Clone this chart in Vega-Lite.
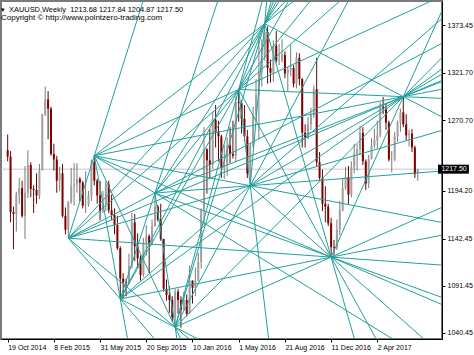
{
  "$schema": "https://vega.github.io/schema/vega-lite/v6.json",
  "width": 441,
  "height": 338,
  "autosize": {"type": "none"},
  "padding": {"left": 1, "top": 1, "right": 32, "bottom": 16},
  "background": "white",
  "title": {
    "text": "▾\u00a0\u00a0XAUUSD,Weekly\u00a0\u00a01213.68 1217.84 1204.87 1217.50",
    "subtitle": "\u00a0Copyright © http://www.pointzero-trading.com",
    "anchor": "start",
    "frame": "group",
    "orient": "top",
    "offset": -21,
    "font": "Liberation Sans",
    "fontSize": 7.4,
    "fontWeight": "normal",
    "color": "#000000",
    "subtitleFont": "Liberation Sans",
    "subtitleFontSize": 8,
    "subtitleColor": "#000000",
    "subtitlePadding": 1
  },
  "datasets": {
    "cur": [{"label": "1217.50", "p": 1217.5}],
    "candles": [
      {"d":"2014-10-19","o":1238,"h":1255,"l":1226,"c":1231},
      {"d":"2014-10-26","o":1231,"h":1237,"l":1160,"c":1171},
      {"d":"2014-11-02","o":1171,"h":1177,"l":1131,"c":1169},
      {"d":"2014-11-09","o":1169,"h":1193,"l":1150,"c":1190},
      {"d":"2014-11-16","o":1190,"h":1208,"l":1180,"c":1197},
      {"d":"2014-11-23","o":1197,"h":1205,"l":1165,"c":1167},
      {"d":"2014-11-30","o":1167,"h":1221,"l":1142,"c":1192},
      {"d":"2014-12-07","o":1192,"h":1238,"l":1186,"c":1222},
      {"d":"2014-12-14","o":1222,"h":1225,"l":1187,"c":1196},
      {"d":"2014-12-21","o":1196,"h":1200,"l":1170,"c":1195},
      {"d":"2014-12-28","o":1195,"h":1213,"l":1180,"c":1189},
      {"d":"2015-01-04","o":1189,"h":1223,"l":1185,"c":1216},
      {"d":"2015-01-11","o":1216,"h":1277,"l":1216,"c":1277},
      {"d":"2015-01-18","o":1277,"h":1307,"l":1275,"c":1293},
      {"d":"2015-01-25","o":1293,"h":1302,"l":1250,"c":1283},
      {"d":"2015-02-01","o":1283,"h":1285,"l":1232,"c":1234},
      {"d":"2015-02-08","o":1234,"h":1245,"l":1216,"c":1228},
      {"d":"2015-02-15","o":1228,"h":1232,"l":1192,"c":1205},
      {"d":"2015-02-22","o":1205,"h":1220,"l":1194,"c":1213},
      {"d":"2015-03-01","o":1213,"h":1223,"l":1165,"c":1167},
      {"d":"2015-03-08","o":1167,"h":1176,"l":1147,"c":1152},
      {"d":"2015-03-15","o":1152,"h":1183,"l":1142.8,"c":1182},
      {"d":"2015-03-22","o":1182,"h":1219,"l":1180,"c":1199},
      {"d":"2015-03-29","o":1199,"h":1224,"l":1178,"c":1201},
      {"d":"2015-04-05","o":1201,"h":1224,"l":1192,"c":1207},
      {"d":"2015-04-12","o":1207,"h":1209,"l":1183,"c":1203},
      {"d":"2015-04-19","o":1203,"h":1205,"l":1175,"c":1178},
      {"d":"2015-04-26","o":1178,"h":1215,"l":1170,"c":1179},
      {"d":"2015-05-03","o":1179,"h":1194,"l":1177,"c":1189},
      {"d":"2015-05-10","o":1189,"h":1228,"l":1183,"c":1225},
      {"d":"2015-05-17","o":1225,"h":1232,"l":1200,"c":1205},
      {"d":"2015-05-24","o":1205,"h":1207,"l":1180,"c":1189},
      {"d":"2015-05-31","o":1189,"h":1205,"l":1162,"c":1172},
      {"d":"2015-06-07","o":1172,"h":1194,"l":1170,"c":1180},
      {"d":"2015-06-14","o":1180,"h":1205,"l":1172,"c":1201},
      {"d":"2015-06-21","o":1201,"h":1205,"l":1170,"c":1173},
      {"d":"2015-06-28","o":1173,"h":1190,"l":1162,"c":1168},
      {"d":"2015-07-05","o":1168,"h":1175,"l":1147,"c":1157},
      {"d":"2015-07-12","o":1157,"h":1167,"l":1130,"c":1132},
      {"d":"2015-07-19","o":1132,"h":1134,"l":1077,"c":1099},
      {"d":"2015-07-26","o":1099,"h":1105,"l":1077,"c":1095},
      {"d":"2015-08-02","o":1095,"h":1099,"l":1080,"c":1094},
      {"d":"2015-08-09","o":1094,"h":1126,"l":1093,"c":1113},
      {"d":"2015-08-16","o":1113,"h":1170,"l":1110,"c":1160},
      {"d":"2015-08-23","o":1160,"h":1169,"l":1118,"c":1134},
      {"d":"2015-08-30","o":1134,"h":1148,"l":1111,"c":1121},
      {"d":"2015-09-06","o":1121,"h":1124,"l":1097,"c":1103},
      {"d":"2015-09-13","o":1103,"h":1143,"l":1101,"c":1138},
      {"d":"2015-09-20","o":1138,"h":1157,"l":1124,"c":1145},
      {"d":"2015-09-27","o":1145,"h":1147,"l":1105,"c":1137},
      {"d":"2015-10-04","o":1137,"h":1163,"l":1135,"c":1156},
      {"d":"2015-10-11","o":1156,"h":1191.7,"l":1155,"c":1177},
      {"d":"2015-10-18","o":1177,"h":1179,"l":1161,"c":1163},
      {"d":"2015-10-25","o":1163,"h":1180,"l":1140,"c":1142},
      {"d":"2015-11-01","o":1142,"h":1142,"l":1085,"c":1088},
      {"d":"2015-11-08","o":1088,"h":1098,"l":1075,"c":1081},
      {"d":"2015-11-15","o":1081,"h":1091,"l":1062,"c":1076},
      {"d":"2015-11-22","o":1076,"h":1080,"l":1052,"c":1057},
      {"d":"2015-11-29","o":1057,"h":1088,"l":1046.4,"c":1085},
      {"d":"2015-12-06","o":1085,"h":1088,"l":1061,"c":1076},
      {"d":"2015-12-13","o":1076,"h":1080,"l":1046,"c":1065},
      {"d":"2015-12-20","o":1065,"h":1085,"l":1065,"c":1076},
      {"d":"2015-12-27","o":1076,"h":1082,"l":1058,"c":1061},
      {"d":"2016-01-03","o":1061,"h":1113,"l":1061,"c":1097},
      {"d":"2016-01-10","o":1097,"h":1097,"l":1072,"c":1089},
      {"d":"2016-01-17","o":1089,"h":1111,"l":1080,"c":1097},
      {"d":"2016-01-24","o":1097,"h":1127,"l":1096,"c":1117},
      {"d":"2016-01-31","o":1117,"h":1175,"l":1110,"c":1173},
      {"d":"2016-02-07","o":1173,"h":1263,"l":1157,"c":1239},
      {"d":"2016-02-14","o":1239,"h":1240,"l":1191,"c":1227},
      {"d":"2016-02-21","o":1227,"h":1261,"l":1208,"c":1222},
      {"d":"2016-02-28","o":1222,"h":1280,"l":1218,"c":1271},
      {"d":"2016-03-06","o":1271,"h":1287,"l":1241,"c":1258},
      {"d":"2016-03-13","o":1258,"h":1270,"l":1226,"c":1253},
      {"d":"2016-03-20","o":1253,"h":1255,"l":1208,"c":1219},
      {"d":"2016-03-27","o":1219,"h":1244,"l":1207,"c":1222},
      {"d":"2016-04-03","o":1222,"h":1252,"l":1210,"c":1243},
      {"d":"2016-04-10","o":1243,"h":1263,"l":1224,"c":1234},
      {"d":"2016-04-17","o":1234,"h":1270,"l":1229,"c":1232},
      {"d":"2016-04-24","o":1232,"h":1296,"l":1225,"c":1290},
      {"d":"2016-05-01","o":1290,"h":1303.8,"l":1269,"c":1289},
      {"d":"2016-05-08","o":1289,"h":1292,"l":1256,"c":1272},
      {"d":"2016-05-15","o":1272,"h":1287,"l":1248,"c":1253},
      {"d":"2016-05-22","o":1253,"h":1260,"l":1208,"c":1213},
      {"d":"2016-05-29","o":1213,"h":1246,"l":1199.6,"c":1243},
      {"d":"2016-06-05","o":1243,"h":1285,"l":1241,"c":1276},
      {"d":"2016-06-12","o":1276,"h":1315,"l":1270,"c":1298},
      {"d":"2016-06-19","o":1298,"h":1362,"l":1250,"c":1322},
      {"d":"2016-06-26","o":1322,"h":1358,"l":1307,"c":1340},
      {"d":"2016-07-03","o":1340,"h":1375,"l":1335,"c":1366},
      {"d":"2016-07-10","o":1366,"h":1372,"l":1310,"c":1327},
      {"d":"2016-07-17","o":1327,"h":1336,"l":1311,"c":1322},
      {"d":"2016-07-24","o":1322,"h":1357,"l":1312,"c":1351},
      {"d":"2016-07-31","o":1351,"h":1367,"l":1333,"c":1335},
      {"d":"2016-08-07","o":1335,"h":1353,"l":1330,"c":1336},
      {"d":"2016-08-14","o":1336,"h":1358,"l":1333,"c":1341},
      {"d":"2016-08-21","o":1341,"h":1345,"l":1316,"c":1321},
      {"d":"2016-08-28","o":1321,"h":1328,"l":1302,"c":1325},
      {"d":"2016-09-04","o":1325,"h":1352,"l":1318,"c":1327},
      {"d":"2016-09-11","o":1327,"h":1330,"l":1306,"c":1310},
      {"d":"2016-09-18","o":1310,"h":1344,"l":1305,"c":1338},
      {"d":"2016-09-25","o":1338,"h":1343,"l":1308,"c":1315},
      {"d":"2016-10-02","o":1315,"h":1316,"l":1241,"c":1257},
      {"d":"2016-10-09","o":1257,"h":1266,"l":1241,"c":1252},
      {"d":"2016-10-16","o":1252,"h":1274,"l":1250,"c":1266},
      {"d":"2016-10-23","o":1266,"h":1284,"l":1260,"c":1276},
      {"d":"2016-10-30","o":1276,"h":1308,"l":1273,"c":1304},
      {"d":"2016-11-06","o":1304,"h":1338,"l":1220,"c":1225},
      {"d":"2016-11-13","o":1225,"h":1236,"l":1206,"c":1208},
      {"d":"2016-11-20","o":1208,"h":1217,"l":1172,"c":1180},
      {"d":"2016-11-27","o":1180,"h":1199,"l":1160,"c":1177},
      {"d":"2016-12-04","o":1177,"h":1180,"l":1156,"c":1159},
      {"d":"2016-12-11","o":1159,"h":1165,"l":1122.3,"c":1133},
      {"d":"2016-12-18","o":1133,"h":1141,"l":1124,"c":1132},
      {"d":"2016-12-25","o":1132,"h":1163,"l":1130,"c":1152},
      {"d":"2017-01-01","o":1152,"h":1183,"l":1146,"c":1173},
      {"d":"2017-01-08","o":1173,"h":1207,"l":1172,"c":1197},
      {"d":"2017-01-15","o":1197,"h":1220,"l":1195,"c":1209},
      {"d":"2017-01-22","o":1209,"h":1221,"l":1180,"c":1190},
      {"d":"2017-01-29","o":1190,"h":1226,"l":1187,"c":1220},
      {"d":"2017-02-05","o":1220,"h":1245,"l":1213,"c":1234},
      {"d":"2017-02-12","o":1234,"h":1244,"l":1216,"c":1239},
      {"d":"2017-02-19","o":1239,"h":1264,"l":1233,"c":1257},
      {"d":"2017-02-26","o":1257,"h":1263,"l":1222,"c":1226},
      {"d":"2017-03-05","o":1226,"h":1228,"l":1195,"c":1202},
      {"d":"2017-03-12","o":1202,"h":1233,"l":1197,"c":1229},
      {"d":"2017-03-19","o":1229,"h":1251,"l":1228,"c":1243},
      {"d":"2017-03-26","o":1243,"h":1261,"l":1240,"c":1249},
      {"d":"2017-04-02","o":1249,"h":1270,"l":1240,"c":1254},
      {"d":"2017-04-09","o":1254,"h":1290,"l":1252,"c":1285},
      {"d":"2017-04-16","o":1285,"h":1295.5,"l":1277,"c":1283},
      {"d":"2017-04-23","o":1283,"h":1288,"l":1260,"c":1268},
      {"d":"2017-04-30","o":1268,"h":1270,"l":1226,"c":1228},
      {"d":"2017-05-07","o":1228,"h":1237,"l":1214,"c":1228},
      {"d":"2017-05-14","o":1228,"h":1258,"l":1226,"c":1253},
      {"d":"2017-05-21","o":1253,"h":1270,"l":1247,"c":1268},
      {"d":"2017-05-28","o":1268,"h":1283,"l":1258,"c":1279},
      {"d":"2017-06-04","o":1279,"h":1296,"l":1263,"c":1266},
      {"d":"2017-06-11","o":1266,"h":1277,"l":1249,"c":1254},
      {"d":"2017-06-18","o":1254,"h":1260,"l":1242,"c":1256},
      {"d":"2017-06-25","o":1256,"h":1261,"l":1236,"c":1241},
      {"d":"2017-07-02","o":1241,"h":1243,"l":1208,"c":1212},
      {"d":"2017-07-09","o":1213.68,"h":1217.84,"l":1204.87,"c":1217.5}
    ],
    "rays": [
      {"ray":"B-A","d":"2015-03-15","p":1142.8},{"ray":"B-A","d":"2017-09-17","p":2441.2},
      {"ray":"B-C","d":"2015-03-15","p":1142.8},{"ray":"B-C","d":"2017-09-17","p":663.9},
      {"ray":"B-D","d":"2015-03-15","p":1142.8},{"ray":"B-D","d":"2017-09-17","p":1356.3},
      {"ray":"B-E","d":"2015-03-15","p":1142.8},{"ray":"B-E","d":"2017-09-17","p":801.5},
      {"ray":"B-F","d":"2015-03-15","p":1142.8},{"ray":"B-F","d":"2017-09-17","p":1500.3},
      {"ray":"B-G","d":"2015-03-15","p":1142.8},{"ray":"B-G","d":"2017-09-17","p":1260.9},
      {"ray":"B-H","d":"2015-03-15","p":1142.8},{"ray":"B-H","d":"2017-09-17","p":1590.1},
      {"ray":"B-I","d":"2015-03-15","p":1142.8},{"ray":"B-I","d":"2017-09-17","p":1113.3},
      {"ray":"B-J","d":"2015-03-15","p":1142.8},{"ray":"B-J","d":"2017-09-17","p":1315.8},
      {"ray":"A-C","d":"2015-05-17","p":1232.0},{"ray":"A-C","d":"2017-09-17","p":-869.1},
      {"ray":"A-D","d":"2015-05-17","p":1232.0},{"ray":"A-D","d":"2017-09-17","p":997.9},
      {"ray":"A-E","d":"2015-05-17","p":1232.0},{"ray":"A-E","d":"2017-09-17","p":423.3},
      {"ray":"A-F","d":"2015-05-17","p":1232.0},{"ray":"A-F","d":"2017-09-17","p":1407.2},
      {"ray":"A-G","d":"2015-05-17","p":1232.0},{"ray":"A-G","d":"2017-09-17","p":1158.8},
      {"ray":"A-H","d":"2015-05-17","p":1232.0},{"ray":"A-H","d":"2017-09-17","p":1527.7},
      {"ray":"A-I","d":"2015-05-17","p":1232.0},{"ray":"A-I","d":"2017-09-17","p":1068.8},
      {"ray":"A-J","d":"2015-05-17","p":1232.0},{"ray":"A-J","d":"2017-09-17","p":1305.0},
      {"ray":"C-D","d":"2015-07-19","p":1077.0},{"ray":"C-D","d":"2017-09-17","p":2157.1},
      {"ray":"C-E","d":"2015-07-19","p":1077.0},{"ray":"C-E","d":"2017-09-17","p":895.0},
      {"ray":"C-F","d":"2015-07-19","p":1077.0},{"ray":"C-F","d":"2017-09-17","p":1702.1},
      {"ray":"C-G","d":"2015-07-19","p":1077.0},{"ray":"C-G","d":"2017-09-17","p":1384.9},
      {"ray":"C-H","d":"2015-07-19","p":1077.0},{"ray":"C-H","d":"2017-09-17","p":1750.5},
      {"ray":"C-I","d":"2015-07-19","p":1077.0},{"ray":"C-I","d":"2017-09-17","p":1147.1},
      {"ray":"C-J","d":"2015-07-19","p":1077.0},{"ray":"C-J","d":"2017-09-17","p":1329.5},
      {"ray":"D-E","d":"2015-10-11","p":1191.7},{"ray":"D-E","d":"2017-09-17","p":-904.8},
      {"ray":"D-F","d":"2015-10-11","p":1191.7},{"ray":"D-F","d":"2017-09-17","p":1582.1},
      {"ray":"D-G","d":"2015-10-11","p":1191.7},{"ray":"D-G","d":"2017-09-17","p":1215.9},
      {"ray":"D-H","d":"2015-10-11","p":1191.7},{"ray":"D-H","d":"2017-09-17","p":1678.9},
      {"ray":"D-I","d":"2015-10-11","p":1191.7},{"ray":"D-I","d":"2017-09-17","p":1076.8},
      {"ray":"D-J","d":"2015-10-11","p":1191.7},{"ray":"D-J","d":"2017-09-17","p":1314.2},
      {"ray":"E-F","d":"2015-11-29","p":1046.4},{"ray":"E-F","d":"2017-09-17","p":2146.2},
      {"ray":"E-G","d":"2015-11-29","p":1046.4},{"ray":"E-G","d":"2017-09-17","p":1600.3},
      {"ray":"E-H","d":"2015-11-29","p":1046.4},{"ray":"E-H","d":"2017-09-17","p":2042.8},
      {"ray":"E-I","d":"2015-11-29","p":1046.4},{"ray":"E-I","d":"2017-09-17","p":1178.5},
      {"ray":"E-J","d":"2015-11-29","p":1046.4},{"ray":"E-J","d":"2017-09-17","p":1343.4},
      {"ray":"F-G","d":"2016-05-01","p":1303.8},{"ray":"F-G","d":"2017-09-17","p":-571.8},
      {"ray":"F-H","d":"2016-05-01","p":1303.8},{"ray":"F-H","d":"2017-09-17","p":1873.4},
      {"ray":"F-I","d":"2016-05-01","p":1303.8},{"ray":"F-I","d":"2017-09-17","p":895.4},
      {"ray":"F-J","d":"2016-05-01","p":1303.8},{"ray":"F-J","d":"2017-09-17","p":1293.9},
      {"ray":"G-H","d":"2016-05-29","p":1199.6},{"ray":"G-H","d":"2017-09-17","p":3585.0},
      {"ray":"G-I","d":"2016-05-29","p":1199.6},{"ray":"G-I","d":"2017-09-17","p":1011.9},
      {"ray":"G-J","d":"2016-05-29","p":1199.6},{"ray":"G-J","d":"2017-09-17","p":1323.3},
      {"ray":"H-I","d":"2016-07-03","p":1375.0},{"ray":"H-I","d":"2017-09-17","p":682.8},
      {"ray":"H-J","d":"2016-07-03","p":1375.0},{"ray":"H-J","d":"2017-09-17","p":1271.3},
      {"ray":"I-J","d":"2016-12-11","p":1122.3},{"ray":"I-J","d":"2017-09-17","p":1400.2}
    ]
  },
  "layer": [
    {
      "data": {"name": "cur"},
      "mark": {"type": "rule", "color": "#c8c8c8", "strokeWidth": 1},
      "encoding": {
        "y": {"field": "p", "type": "quantitative", "title": null, "scale": {"domain": [1039.1, 1394.1], "nice": false, "zero": false}}
      }
    },
    {
      "data": {"name": "candles"},
      "mark": {"type": "rule", "strokeWidth": 1},
      "encoding": {
        "x": {
          "field": "d", "type": "temporal", "title": null,
          "scale": {"type": "utc", "domain": [{"year": 2014, "month": 10, "date": 14, "hours": 23, "minutes": 17, "utc": true}, {"year": 2017, "month": 8, "date": 24, "hours": 15, "minutes": 36, "utc": true}]},
          "axis": {
            "values": [
              {"year": 2014, "month": 10, "date": 19, "utc": true},
              {"year": 2015, "month": 2, "date": 8, "utc": true},
              {"year": 2015, "month": 5, "date": 31, "utc": true},
              {"year": 2015, "month": 9, "date": 20, "utc": true},
              {"year": 2016, "month": 1, "date": 10, "utc": true},
              {"year": 2016, "month": 5, "date": 1, "utc": true},
              {"year": 2016, "month": 8, "date": 21, "utc": true},
              {"year": 2016, "month": 12, "date": 11, "utc": true},
              {"year": 2017, "month": 4, "date": 2, "utc": true}
            ],
            "labelExpr": "utcFormat(datum.value, '%-d %b %Y')",
            "grid": false,
            "labelAlign": "left",
            "labelDx": 0,
            "labelPadding": 1,
            "tickSize": 3,
            "tickColor": "#000000",
            "domainColor": "#000000",
            "labelColor": "#000000",
            "labelFont": "Liberation Sans",
            "labelFontSize": 7,
            "labelOverlap": false,
            "labelFlush": false,
            "labelBound": false
          }
        },
        "y": {
          "field": "l", "type": "quantitative", "title": null,
          "scale": {"domain": [1039.1, 1394.1], "nice": false, "zero": false},
          "axis": {
            "orient": "right",
            "values": [1040.45, 1065.95, 1091.45, 1116.95, 1142.45, 1167.95, 1194.2, 1245.2, 1270.7, 1296.2, 1321.7, 1347.95, 1373.45],
            "format": ".2f",
            "grid": false,
            "tickSize": 3,
            "tickColor": "#000000",
            "domainColor": "#000000",
            "labelColor": "#000000",
            "labelFont": "Liberation Sans",
            "labelFontSize": 7,
            "labelPadding": 2,
            "labelOverlap": false,
            "labelFlush": false,
            "labelBound": false
          }
        },
        "y2": {"field": "h"},
        "color": {"condition": {"test": "datum.c < datum.o", "value": "#5a0a0a"}, "value": "#7a7a7a"}
      }
    },
    {
      "data": {"name": "candles"},
      "mark": {"type": "bar", "size": 2},
      "encoding": {
        "x": {"field": "d", "type": "temporal", "title": null, "scale": {"type": "utc", "domain": [{"year": 2014, "month": 10, "date": 14, "hours": 23, "minutes": 17, "utc": true}, {"year": 2017, "month": 8, "date": 24, "hours": 15, "minutes": 36, "utc": true}]}},
        "y": {"field": "o", "type": "quantitative", "title": null, "scale": {"domain": [1039.1, 1394.1], "nice": false, "zero": false}},
        "y2": {"field": "c"},
        "color": {"condition": {"test": "datum.c < datum.o", "value": "#800000"}, "value": "#a0a0a0"}
      }
    },
    {
      "data": {"name": "rays"},
      "mark": {"type": "line", "clip": true, "strokeWidth": 1, "color": "#22a09d"},
      "encoding": {
        "x": {"field": "d", "type": "temporal", "title": null, "scale": {"type": "utc", "domain": [{"year": 2014, "month": 10, "date": 14, "hours": 23, "minutes": 17, "utc": true}, {"year": 2017, "month": 8, "date": 24, "hours": 15, "minutes": 36, "utc": true}]}},
        "y": {"field": "p", "type": "quantitative", "title": null, "scale": {"domain": [1039.1, 1394.1], "nice": false, "zero": false}},
        "detail": {"field": "ray"}
      }
    },
    {
      "data": {"name": "cur"},
      "mark": {"type": "bar", "color": "#000000", "size": 9, "orient": "horizontal"},
      "encoding": {
        "x": {"datum": {"year": 2017, "month": 8, "date": 27, "utc": true}, "type": "temporal"},
        "x2": {"datum": {"year": 2017, "month": 11, "date": 10, "utc": true}},
        "y": {"field": "p", "type": "quantitative", "title": null, "scale": {"domain": [1039.1, 1394.1], "nice": false, "zero": false}}
      }
    },
    {
      "data": {"name": "cur"},
      "mark": {"type": "text", "align": "left", "baseline": "middle", "color": "#ffffff", "font": "Liberation Sans", "fontSize": 7},
      "encoding": {
        "x": {"datum": {"year": 2017, "month": 9, "date": 4, "hours": 7, "utc": true}, "type": "temporal"},
        "y": {"field": "p", "type": "quantitative", "title": null, "scale": {"domain": [1039.1, 1394.1], "nice": false, "zero": false}},
        "text": {"field": "label"}
      }
    }
  ],
  "config": {
    "view": {"stroke": "#7a7a7a", "strokeWidth": 2},
    "font": "Liberation Sans"
  }
}
